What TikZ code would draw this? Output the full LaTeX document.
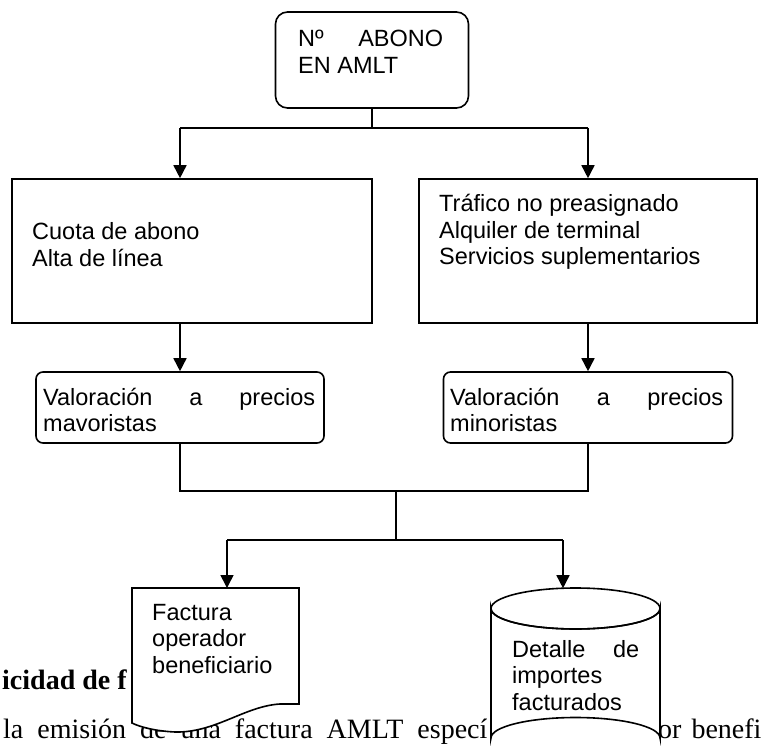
\documentclass[tikz,border=0pt]{standalone}
\usepackage{fontspec}
\setmainfont{Liberation Sans}
\newfontfamily\serifbg{Liberation Serif}
\usetikzlibrary{arrows.meta}
\begin{document}
\begin{tikzpicture}[x=1pt,y=-1pt,
  ln/.style={line width=1.6pt},
  arr/.style={ln,-{Triangle[length=13pt,width=13pt]}},
  txt/.style={anchor=base west,inner sep=0pt,font=\fontsize{23.5}{26.5}\selectfont},
  bg/.style={anchor=base west,inner sep=0pt,font=\serifbg\fontsize{28}{32}\selectfont},
  box/.style={draw,ln,fill=white,inner sep=0pt}]
\useasboundingbox (0,0) rectangle (768,751);

% background document text (partly covered by the shapes)
\node[bg,font=\serifbg\bfseries\fontsize{28}{32}\selectfont] (bg1) at (2,689) {icidad de f};
\node[bg] (bg2) at (3,738.5) {\spaceskip=14pt la emisión de una factura AMLT especí};
\node[bg] (bg3) at (658,738.5) {\spaceskip=10pt or benefi};

% shapes
\node[box,rounded corners=12pt,minimum width=193pt,minimum height=96pt] (top) at (372,60) {};
\node[box,minimum width=360pt,minimum height=144pt] (lbox) at (192,251) {};
\node[box,minimum width=338pt,minimum height=144pt] (rbox) at (588,251) {};
\node[box,rounded corners=7pt,minimum width=288pt,minimum height=71pt] (vl) at (180,407.5) {};
\node[box,rounded corners=7pt,minimum width=289pt,minimum height=71pt] (vr) at (588,407.5) {};

% document shape
\draw[ln,fill=white] (132,588) -- (299,588) -- (299,704) -- (280,704)
  .. controls (245,706) and (215,733) .. (175,732)
  .. controls (155,731) and (140,727) .. (132,723) -- cycle;
\coordinate (doctop) at (227,588);

% cylinder
\draw[ln,fill=white] (491,608.5) -- (491,738)
  arc[start angle=180,end angle=360,x radius=84.5,y radius=20.5]
  -- (660,608.5)
  arc[start angle=0,end angle=180,x radius=84.5,y radius=20.5] -- cycle;
\draw[ln] (575.5,608.5) ellipse[x radius=84.5,y radius=20.5];
\coordinate (cyltop) at (563,588.2);

% connectors
\coordinate (j1) at (372,128);
\coordinate (j1l) at (180,128);
\coordinate (j1r) at (588,128);
\draw[ln] (top.south) -- (j1);
\draw[ln] (j1l) -- (j1r);
\draw[arr] (j1l) -- (j1l |- lbox.north);
\draw[arr] (j1r) -- (rbox.north);
\draw[arr] (vl.north |- lbox.south) -- (vl.north);
\draw[arr] (vr.north |- rbox.south) -- (vr.north);
\coordinate (j2) at (396,491);
\coordinate (j3) at (396,540);
\coordinate (j3l) at (227,540);
\coordinate (j3r) at (563,540);
\draw[ln] (vl.south) |- (j2) -| (vr.south);
\draw[ln] (j2) -- (j3);
\draw[ln] (j3l) -- (j3r);
\draw[arr] (j3l) -- (doctop);
\draw[arr] (j3r) -- (cyltop);

% texts
\node[txt] (t1a) at (298,47) {\hbox to 145pt{Nº\hfill ABONO}};
\node[txt] (t1b) at (298,73.5) {EN AMLT};
\node[txt] (t2a) at (32,240) {Cuota de abono};
\node[txt] (t2b) at (32,266.5) {Alta de línea};
\node[txt] (t3a) at (439,212) {Tráfico no preasignado};
\node[txt] (t3b) at (439,238.5) {Alquiler de terminal};
\node[txt] (t3c) at (439,265) {Servicios suplementarios};
\node[txt] (t4a) at (43,405) {\hbox to 272pt{Valoración\hfill a\hfill precios}};
\node[txt] (t4b) at (43,431.5) {mavoristas};
\node[txt] (t5a) at (450,405) {\hbox to 273pt{Valoración\hfill a\hfill precios}};
\node[txt] (t5b) at (450,431.5) {minoristas};
\node[txt] (t6a) at (152,620) {Factura};
\node[txt] (t6b) at (152,646.5) {operador};
\node[txt] (t6c) at (152,673) {beneficiario};
\node[txt] (t7a) at (512,657) {\hbox to 127pt{Detalle\hfill de}};
\node[txt] (t7b) at (512,683.5) {importes};
\node[txt] (t7c) at (512,710) {facturados};
\end{tikzpicture}
\end{document}
